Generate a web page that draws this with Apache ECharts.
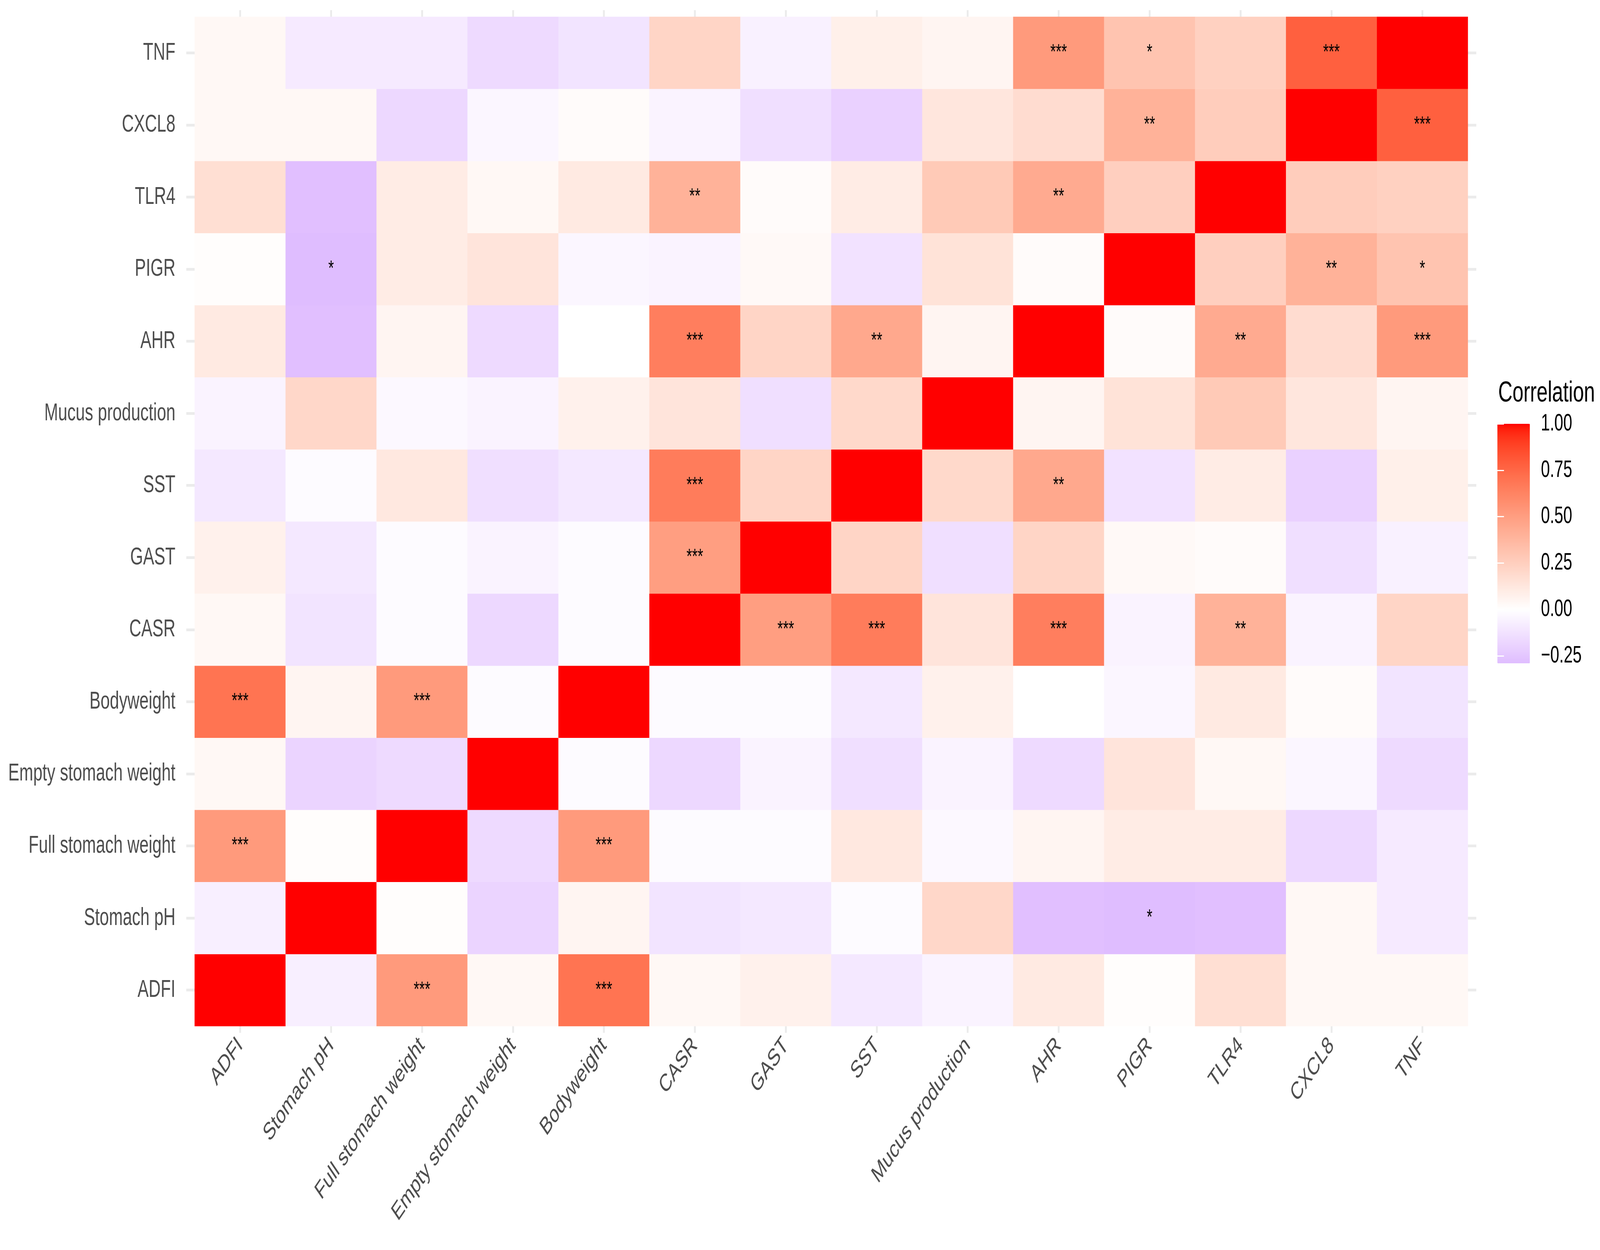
<!DOCTYPE html>
<html>
<head>
<meta charset="utf-8">
<script src="https://cdn.jsdelivr.net/npm/echarts@6/dist/echarts.min.js"></script>
<style>
html,body{margin:0;padding:0;background:#fff;overflow:hidden;}
#chart{width:6066px;height:3200px;transform-origin:0 0;}
</style>
</head>
<body>
<div id="chart"></div>
<script>
// ---- Data ----
const variables = ['ADFI','Stomach pH','Full stomach weight','Empty stomach weight','Bodyweight','CASR','GAST','SST','Mucus production','AHR','PIGR','TLR4','CXCL8','TNF'];

// correlation rows (row variable vs. variables in order above)
const corADFI      = [1.00,-0.07, 0.52, 0.04, 0.70, 0.04, 0.07,-0.10,-0.05, 0.11, 0.01, 0.17, 0.04, 0.04];
const corStomachPH = [-0.07, 1.00, 0.01,-0.19, 0.05,-0.12,-0.10,-0.02, 0.21,-0.28,-0.29,-0.28, 0.04,-0.09];
const corFullSW    = [0.52, 0.01, 1.00,-0.16, 0.52,-0.02,-0.02, 0.12,-0.03, 0.05, 0.10, 0.10,-0.17,-0.09];
const corEmptySW   = [0.04,-0.19,-0.16, 1.00,-0.02,-0.17,-0.05,-0.14,-0.05,-0.16, 0.14, 0.04,-0.04,-0.16];
const corBodyweight= [0.70, 0.05, 0.52,-0.02, 1.00,-0.02,-0.02,-0.10, 0.07, 0.00,-0.04, 0.11, 0.02,-0.12];
const corCASR      = [0.04,-0.12,-0.02,-0.17,-0.02, 1.00, 0.50, 0.66, 0.14, 0.65,-0.05, 0.40,-0.05, 0.22];
const corGAST      = [0.07,-0.10,-0.02,-0.05,-0.02, 0.50, 1.00, 0.22,-0.14, 0.22, 0.03, 0.02,-0.14,-0.06];
const corSST       = [-0.10,-0.02, 0.12,-0.14,-0.10, 0.66, 0.22, 1.00, 0.20, 0.45,-0.13, 0.10,-0.20, 0.08];
const corMucus     = [-0.05, 0.21,-0.03,-0.05, 0.07, 0.14,-0.14, 0.20, 1.00, 0.05, 0.15, 0.28, 0.13, 0.05];
const corAHR       = [0.11,-0.28, 0.05,-0.16, 0.00, 0.65, 0.22, 0.45, 0.05, 1.00, 0.02, 0.44, 0.18, 0.52];
const corPIGR      = [0.01,-0.29, 0.10, 0.14,-0.04,-0.05, 0.03,-0.13, 0.15, 0.02, 1.00, 0.25, 0.40, 0.31];
const corTLR4      = [0.17,-0.28, 0.10, 0.04, 0.11, 0.40, 0.02, 0.10, 0.28, 0.44, 0.25, 1.00, 0.26, 0.24];
const corCXCL8     = [0.04, 0.04,-0.17,-0.04, 0.02,-0.05,-0.14,-0.20, 0.13, 0.18, 0.40, 0.26, 1.00, 0.78];
const corTNF       = [0.04,-0.09,-0.09,-0.16,-0.12, 0.22,-0.06, 0.08, 0.05, 0.52, 0.31, 0.24, 0.78, 1.00];

// significance marks: [row variable, column variable, stars]
const sigMarks = [
  ['TNF','AHR','***'],['TNF','PIGR','*'],['TNF','CXCL8','***'],
  ['CXCL8','PIGR','**'],['CXCL8','TNF','***'],
  ['TLR4','CASR','**'],['TLR4','AHR','**'],
  ['PIGR','Stomach pH','*'],['PIGR','CXCL8','**'],['PIGR','TNF','*'],
  ['AHR','CASR','***'],['AHR','SST','**'],['AHR','TLR4','**'],['AHR','TNF','***'],
  ['SST','CASR','***'],['SST','AHR','**'],
  ['GAST','CASR','***'],
  ['CASR','GAST','***'],['CASR','SST','***'],['CASR','AHR','***'],['CASR','TLR4','**'],
  ['Bodyweight','ADFI','***'],['Bodyweight','Full stomach weight','***'],
  ['Full stomach weight','ADFI','***'],['Full stomach weight','Bodyweight','***'],
  ['Stomach pH','PIGR','*'],
  ['ADFI','Full stomach weight','***'],['ADFI','Bodyweight','***']
];

const legendBreaks = [-0.25, 0, 0.25, 0.5, 0.75, 1];
const corMin = -0.29, corMax = 1;

// ---- Build ----
const rows = [corADFI,corStomachPH,corFullSW,corEmptySW,corBodyweight,corCASR,corGAST,corSST,corMucus,corAHR,corPIGR,corTLR4,corCXCL8,corTNF];
const sigMap = {};
sigMarks.forEach(([r,c,s]) => { sigMap[variables.indexOf(c)+'_'+variables.indexOf(r)] = s; });
const heatData = [];
rows.forEach((row, yi) => row.forEach((v, xi) => heatData.push([xi, yi, v])));

// colour ramp (Lab interpolation like ggplot2)
function toLin(c){c/=255;return c<=0.04045?c/12.92:Math.pow((c+0.055)/1.055,2.4);}
function toS(c){c=Math.max(0,Math.min(1,c));return 255*(c<=0.0031308?12.92*c:1.055*Math.pow(c,1/2.4)-0.055);}
function hex2rgb(h){return [parseInt(h.slice(1,3),16),parseInt(h.slice(3,5),16),parseInt(h.slice(5,7),16)];}
function rgb2lab(rgb){
  const [r,g,b]=rgb.map(toLin);
  const X=(0.4124*r+0.3576*g+0.1805*b)/0.95047, Y=(0.2126*r+0.7152*g+0.0722*b), Z=(0.0193*r+0.1192*g+0.9505*b)/1.08883;
  const f=t=>t>0.008856?Math.cbrt(t):7.787*t+16/116;
  const fx=f(X),fy=f(Y),fz=f(Z);
  return [116*fy-16,500*(fx-fy),200*(fy-fz)];
}
function lab2rgb([L,a,b]){
  const fy=(L+16)/116,fx=fy+a/500,fz=fy-b/200;
  const fi=t=>t*t*t>0.008856?t*t*t:(t-16/116)/7.787;
  const X=fi(fx)*0.95047,Y=fi(fy),Z=fi(fz)*1.08883;
  const r=3.2406*X-1.5372*Y-0.4986*Z, g=-0.9689*X+1.8758*Y+0.0415*Z, bb=0.0557*X-0.2040*Y+1.0570*Z;
  return [toS(r),toS(g),toS(bb)].map(Math.round);
}
const labW=rgb2lab([255,255,255]), labR=rgb2lab(hex2rgb('#FF0000')), labP=rgb2lab(hex2rgb('#DFBDFF'));
function mix(a,b,t){return a.map((x,i)=>x+(b[i]-x)*t);}
function colorAt(v){
  const lab = v>=0 ? mix(labW,labR,v/corMax) : mix(labW,labP,v/corMin);
  const c=lab2rgb(lab);
  return 'rgb('+c.join(',')+')';
}
const rampColors=[];
const N=200;
for(let i=0;i<=N;i++){rampColors.push(colorAt(corMin+(corMax-corMin)*i/N));}

// fit the 6066x3200 design into the actual window
const el = document.getElementById('chart');
const sx = (window.innerWidth || 6066) / 6066, sy = (window.innerHeight || 3200) / 3200;
el.style.transform = 'scale(' + sx + ',' + sy + ')';

const FONT = "'Liberation Sans', Arial, Helvetica, sans-serif";
const chart = echarts.init(el, null, {renderer:'canvas', width:6066, height:3200});
const stub = {color:'#EBEBEB', width:7};
chart.setOption({
  backgroundColor:'#ffffff',
  animation:false,
  textStyle:{fontFamily:FONT},
  title:{text:'Correlation', left:5680, top:970, padding:0,
    textStyle:{fontSize:75, fontWeight:'normal', color:'#000', fontFamily:FONT}},
  grid:[
    {left:738, top:43, width:4827, height:2584, containLabel:false},
    {left:5677, top:1085, width:123, height:613, containLabel:false}
  ],
  xAxis:[
    {type:'category', gridIndex:0, data:variables, position:'bottom',
     axisLine:{show:false}, splitLine:{show:false},
     axisTick:{show:true, alignWithLabel:true, length:17, lineStyle:stub},
     axisLabel:{interval:0, rotate:45, fontSize:63, color:'#4D4D4D', margin:40, fontFamily:FONT}},
    {type:'category', gridIndex:0, data:variables, position:'top',
     axisLine:{show:false}, splitLine:{show:false}, axisLabel:{show:false},
     axisTick:{show:true, alignWithLabel:true, length:17, lineStyle:stub}},
    {type:'value', gridIndex:1, show:false, min:0, max:1}
  ],
  yAxis:[
    {type:'category', gridIndex:0, data:variables, position:'left',
     axisLine:{show:false}, splitLine:{show:false},
     axisTick:{show:true, alignWithLabel:true, length:32, lineStyle:stub},
     axisLabel:{interval:0, fontSize:63, color:'#4D4D4D', margin:73, fontFamily:FONT}},
    {type:'category', gridIndex:0, data:variables, position:'right',
     axisLine:{show:false}, splitLine:{show:false}, axisLabel:{show:false},
     axisTick:{show:true, alignWithLabel:true, length:32, lineStyle:stub}},
    {type:'value', gridIndex:1, min:corMin, max:corMax, position:'right', z:20,
     axisLine:{show:false}, splitLine:{show:false},
     axisTick:{show:true, inside:true, length:25, customValues:legendBreaks, lineStyle:{color:'#ffffff', width:3}},
     axisLabel:{show:true, customValues:legendBreaks, margin:42, fontSize:61, color:'#000', fontFamily:FONT,
       formatter:v=>(v<0?'\u2212':'')+Math.abs(v).toFixed(2)}},
    {type:'value', gridIndex:1, min:corMin, max:corMax, position:'left', z:20,
     axisLine:{show:false}, splitLine:{show:false}, axisLabel:{show:false},
     axisTick:{show:true, inside:true, length:25, customValues:legendBreaks, lineStyle:{color:'#ffffff', width:3}}}
  ],
  visualMap:{
    type:'continuous', min:corMin, max:corMax, seriesIndex:0, dimension:2,
    calculable:false, realtime:false, hoverLink:false,
    itemWidth:123, itemHeight:613, left:5677, top:1085, padding:0,
    orient:'vertical', text:null, showLabel:false,
    inRange:{color:rampColors}
  },
  series:[
    {type:'heatmap', xAxisIndex:0, yAxisIndex:0, data:heatData,
     itemStyle:{borderWidth:0},
     emphasis:{disabled:true},
     label:{show:true, fontSize:54, color:'#000', fontFamily:FONT,
       formatter:p=>sigMap[p.value[0]+'_'+p.value[1]]||''}},
    {type:'scatter', xAxisIndex:2, yAxisIndex:2, data:[]}
  ]
});
</script>
</body>
</html>
